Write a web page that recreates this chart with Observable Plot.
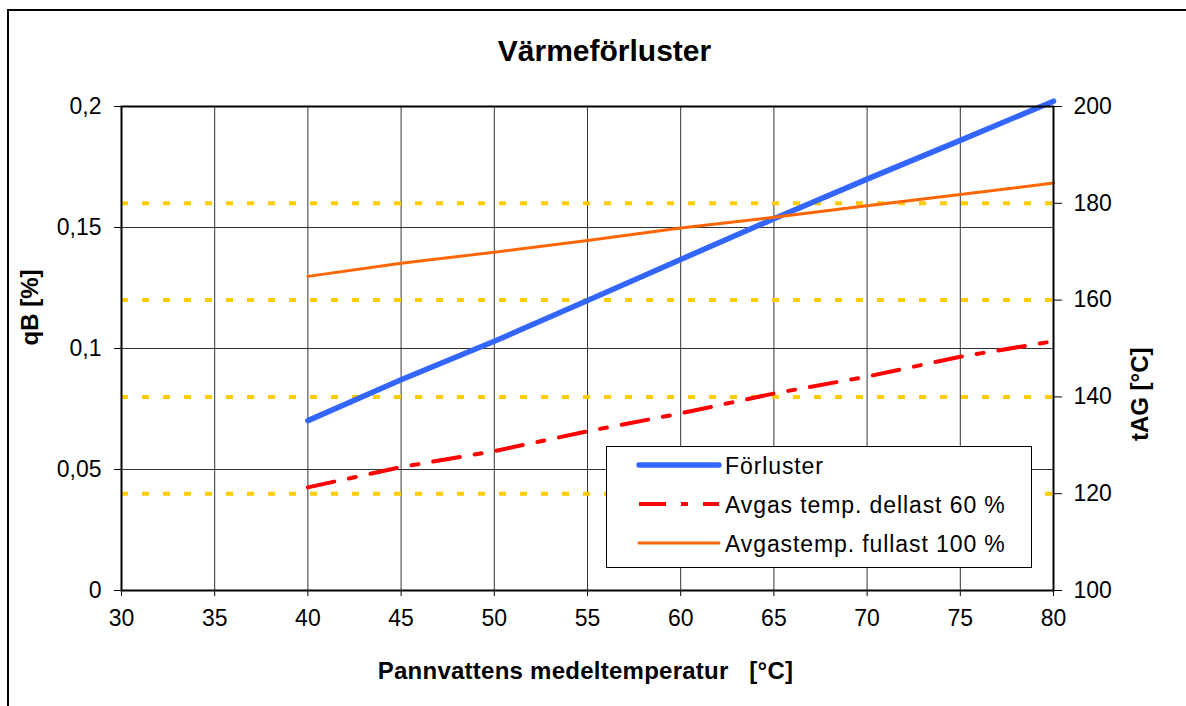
<!DOCTYPE html>
<html>
<head>
<meta charset="utf-8">
<script src="https://cdn.jsdelivr.net/npm/d3@7"></script>
<script src="https://cdn.jsdelivr.net/npm/@observablehq/plot@0.6"></script>
<style>
  html, body { margin: 0; padding: 0; background: #fff; }
  #wrap { position: relative; width: 1186px; height: 706px; overflow: hidden; font-family: "Liberation Sans", Arial, sans-serif; }
  #border { position: absolute; left: 7px; top: 9px; width: 1400px; height: 900px; border: 2px solid #000; box-sizing: border-box; pointer-events: none; }
  #chart { position: absolute; left: 0; top: 0; }
  #legend { position: absolute; left: 606px; top: 446px; }
</style>
</head>
<body>
<div id="wrap">
  <div id="border"></div>
  <div id="chart"></div>
  <svg id="legend" width="427" height="123"></svg>
</div>
<script>
// ---- data ----
const titleText = "Värmeförluster";
const xTitle = "Pannvattens medeltemperatur   [°C]";
const yLeftTitle = "qB [%]";
const yRightTitle = "tAG [°C]";

const temps = [40, 45, 50, 55, 60, 65, 70, 75, 80];
const forluster = [0.0702, 0.0871, 0.1030, 0.1198, 0.1368, 0.1536, 0.1700, 0.1860, 0.2022];
const dellast60 = [121.3, 125.5, 128.8, 132.9, 136.6, 140.7, 144.2, 148.3, 151.5];
const fullast100 = [164.9, 167.6, 169.9, 172.3, 174.9, 177.1, 179.5, 181.8, 184.2];

const seriesNames = ["Förluster", "Avgas temp. dellast 60 %", "Avgastemp. fullast 100 %"];

const xTicks = [30, 35, 40, 45, 50, 55, 60, 65, 70, 75, 80];
const yLeftTicks = [0, 0.05, 0.1, 0.15, 0.2];
const yRightTicks = [100, 120, 140, 160, 180, 200];
const yRightGrid = [120, 140, 160, 180];

// ---- styles ----
const FONT = "Liberation Sans, Arial, sans-serif";
const colBlue = "#3366FF", colRed = "#FF0000", colOrange = "#FF6600", colYellow = "#FFCC00";
const redDash = "27,15,7,15";

// right axis (°C) mapped onto the left (qB) scale: 100 -> 0, 200 -> 0.2
const rightToLeft = t => (t - 100) / 500;

const blueData = temps.map((t, i) => ({x: t, y: forluster[i]}));
const redData = temps.map((t, i) => ({x: t, t: dellast60[i]}));
const orangeData = temps.map((t, i) => ({x: t, t: fullast100[i]}));

const commaFmt = d => String(d).replace(".", ",");

const plot = Plot.plot({
  width: 1186,
  height: 706,
  marginTop: 106,
  marginBottom: 116,
  marginLeft: 121,
  marginRight: 133,
  style: {fontFamily: FONT, fontSize: "23px", color: "#000", background: "transparent"},
  x: {domain: [30, 80], type: "linear"},
  y: {domain: [0, 0.2], type: "linear"},
  marks: [
    Plot.gridX(xTicks.slice(1, -1), {stroke: "#000", strokeOpacity: 0.8, strokeWidth: 1}),
    Plot.gridY(yLeftTicks.slice(1, -1), {stroke: "#000", strokeOpacity: 0.8, strokeWidth: 1}),
    Plot.ruleY(yRightGrid, {y: rightToLeft, stroke: colYellow, strokeWidth: 4, strokeDasharray: "7,14"}),
    Plot.line(blueData, {x: "x", y: "y", stroke: colBlue, strokeWidth: 5.5, strokeLinecap: "round"}),
    Plot.line(redData, {x: "x", y: d => rightToLeft(d.t), stroke: colRed, strokeWidth: 4, strokeDasharray: redDash}),
    Plot.line(orangeData, {x: "x", y: d => rightToLeft(d.t), stroke: colOrange, strokeWidth: 3}),
    Plot.frame({stroke: "#000", strokeWidth: 2}),
    Plot.axisX({ticks: xTicks, tickSize: 6, tickPadding: 13, tickFormat: d => String(d), fontSize: 23, label: null}),
    Plot.axisY({anchor: "left", ticks: yLeftTicks, tickSize: 7, tickPadding: 13, tickFormat: commaFmt, fontSize: 23, label: null}),
    Plot.axisY({anchor: "right", ticks: yRightTicks.map(rightToLeft), tickSize: 8, tickPadding: 12,
      tickFormat: d => String(Math.round(d * 500 + 100)), fontSize: 23, label: null}),
    Plot.text([titleText], {text: d => d, frameAnchor: "top", dx: 17, dy: -55, lineAnchor: "middle", fontSize: 30, fontWeight: "bold"}),
    Plot.text([xTitle], {text: d => d, frameAnchor: "bottom", dx: -2, dy: 81, lineAnchor: "middle", fontSize: 24, fontWeight: "bold"}),
    Plot.text([yLeftTitle], {text: d => d, frameAnchor: "left", dx: -91, dy: -3, rotate: -90, lineAnchor: "middle", fontSize: 24, fontWeight: "bold"}),
    Plot.text([yRightTitle], {text: d => d, frameAnchor: "right", dx: 87, dy: -1, rotate: -90, lineAnchor: "middle", fontSize: 24, fontWeight: "bold"})
  ]
});
plot.querySelectorAll("text").forEach(t => {
  if (t.textContent.includes("   ")) { t.style.whiteSpace = "pre"; t.setAttribute("letter-spacing", "0.25px"); }
});
document.getElementById("chart").appendChild(plot);

// ---- legend ----
const leg = d3.select("#legend");
leg.append("rect").attr("x", 0.5).attr("y", 0.5).attr("width", 425).attr("height", 121)
  .attr("fill", "#fff").attr("stroke", "#000").attr("stroke-width", 1);
const legItems = [
  {name: seriesNames[0], color: colBlue, width: 5.5, dash: null, cap: "round"},
  {name: seriesNames[1], color: colRed, width: 4, dash: redDash, cap: "butt"},
  {name: seriesNames[2], color: colOrange, width: 3, dash: null, cap: "round"}
];
legItems.forEach((it, i) => {
  const cy = 19 + i * 39;
  leg.append("line").attr("x1", 33).attr("x2", 113).attr("y1", cy).attr("y2", cy)
    .attr("stroke", it.color).attr("stroke-width", it.width)
    .attr("stroke-dasharray", it.dash).attr("stroke-linecap", it.cap);
  leg.append("text").attr("x", 119).attr("y", cy + 8.5)
    .attr("font-family", FONT).attr("font-size", 23).attr("letter-spacing", "0.9px")
    .text(it.name);
});
</script>
</body>
</html>
